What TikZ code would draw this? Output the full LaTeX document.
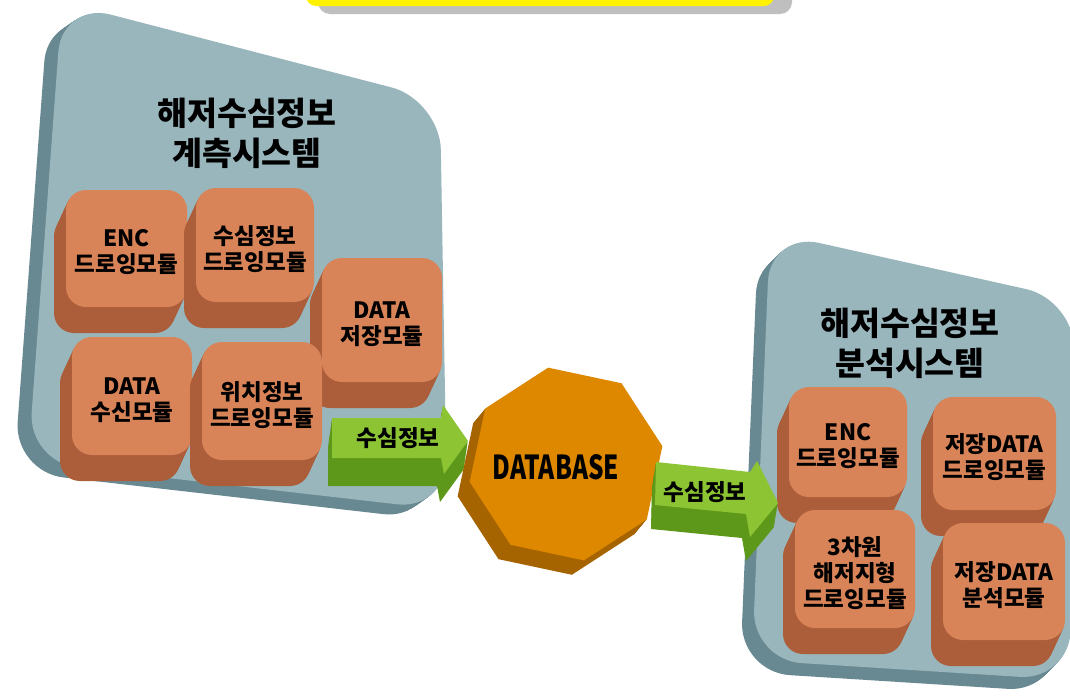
\documentclass[tikz,border=0pt]{standalone}
\usepackage{fontspec}
\newfontfamily\kr{Noto Sans CJK KR}
\usetikzlibrary{calc}
\definecolor{panel}{RGB}{153,182,188}
\definecolor{paneldk}{RGB}{104,136,146}
\definecolor{org}{RGB}{216,132,88}
\definecolor{orgdk}{RGB}{172,94,58}
\definecolor{dbor}{RGB}{222,136,0}
\definecolor{dbdk}{RGB}{166,100,0}
\definecolor{grn}{RGB}{140,196,52}
\definecolor{grndk}{RGB}{94,152,26}
\tikzset{
  modtext/.style={font=\kr\bfseries\fontsize{22.5}{26}\selectfont, align=center, inner sep=0pt},
  titletext/.style={font=\kr\bfseries\fontsize{32.5}{40}\selectfont, align=center, inner sep=0pt},
  arrtext/.style={font=\kr\bfseries\fontsize{22.5}{24}\selectfont, inner sep=0pt},
  modface/.style={fill=org, rounded corners=20pt},
  modside/.style={fill=orgdk, rounded corners=20pt},
  panelface/.style={fill=panel, rounded corners=50pt},
  panelside/.style={fill=paneldk, rounded corners=50pt},
}
\newcommand\module[6]{%
  \foreach \k in {14,13,...,1}{
    \fill[modside, shift={({-\k*12/14},{\k*26/14})}] (#2,#3) rectangle (#4,#5);
  }
  \fill[modface] (#2,#3) rectangle (#4,#5);
  \node[modtext] (#1) at ({(#2+#4)/2},{(#3+#5)/2+4}) {#6};
}
\begin{document}
\begin{tikzpicture}[x=1pt,y=-1pt]
\useasboundingbox (0,0) rectangle (1070,697);
\clip (0,0) rectangle (1070,697);
\fill[white] (0,0) rectangle (1070,697);
% banner
\fill[gray!50, rounded corners=12pt] (318,-40) rectangle (792,14);
\fill[yellow, rounded corners=10pt] (306,-40) rectangle (774,6);
% left panel
\foreach \k in {14,...,1}
  \fill[panelside, shift={({-\k},{0.7*\k})}] (62,2) -- (440,100) -- (447,510) -- (28,462) -- cycle;
\fill[panelface] (62,2) -- (440,100) -- (447,510) -- (28,462) -- cycle;
% right panel
\foreach \k in {12,...,1}
  \fill[panelside, shift={({-\k},{\k})}] (770,232) -- (1075,300) -- (1070,680) -- (752,660) -- cycle;
\fill[panelface] (770,232) -- (1075,300) -- (1070,680) -- (752,660) -- cycle;
% titles
\node[titletext] (t1) at (247,133) {해저수심정보\\계측시스템};
\node[titletext] (t2) at (910,343) {해저수심정보\\분석시스템};
% left modules
\module{m1}{66}{190}{187}{307}{ENC\\드로잉모듈}
\module{m2}{196}{188}{314}{302}{수심정보\\드로잉모듈}
\module{m3}{322}{258}{442}{382}{DATA\\저장모듈}
\module{m4}{72}{337}{192}{455}{DATA\\수신모듈}
\module{m5}{202}{342}{322}{460}{위치정보\\드로잉모듈}
% right modules
\module{r1}{789}{387}{907}{497}{ENC\\드로잉모듈}
\module{r2}{933}{397}{1056}{510}{저장DATA\\드로잉모듈}
\module{r3}{795}{510}{915}{628}{3차원\\해저지형\\드로잉모듈}
\module{r4}{943}{523}{1065}{640}{저장DATA\\분석모듈}
% arrow 1
\foreach \k in {14,...,1}
  \fill[grndk, shift={({-\k*4/14},{\k*28/14})}] (332,418) -- (441,418) -- (443,405) -- (468,441) -- (444,474) -- (441,458) -- (332,458) -- cycle;
\fill[grn] (332,418) -- (441,418) -- (443,405) -- (468,441) -- (444,474) -- (441,458) -- (332,458) -- cycle;
\node[arrtext] (a1) at (398,438) {수심정보};
% database
\foreach \k in {12,...,1}
  \fill[dbdk, shift={({566-\k},{464+1.2*\k})}] (34.5:98) \foreach \a in {1,...,7}{ -- ({34.5+\a*45}:98)} -- cycle;
\fill[dbor, shift={(566,464)}] (34.5:98) \foreach \a in {1,...,7}{ -- ({34.5+\a*45}:98)} -- cycle;
\node[font=\kr\bfseries\fontsize{33}{35}\selectfont, inner sep=0pt] (db) at (556,467) {\scalebox{0.74}[1]{DATABASE}};
% arrow 2
\foreach \k in {14,...,1}
  \fill[grndk, shift={({-\k*4/14},{\k*24/14})}] (656,462) -- (750,472) -- (757,461) -- (778,503) -- (750,537) -- (746,514) -- (655,505) -- cycle;
\fill[grn] (656,462) -- (750,472) -- (757,461) -- (778,503) -- (750,537) -- (746,514) -- (655,505) -- cycle;
\node[arrtext] (a2) at (705,492) {수심정보};
\end{tikzpicture}
\end{document}
